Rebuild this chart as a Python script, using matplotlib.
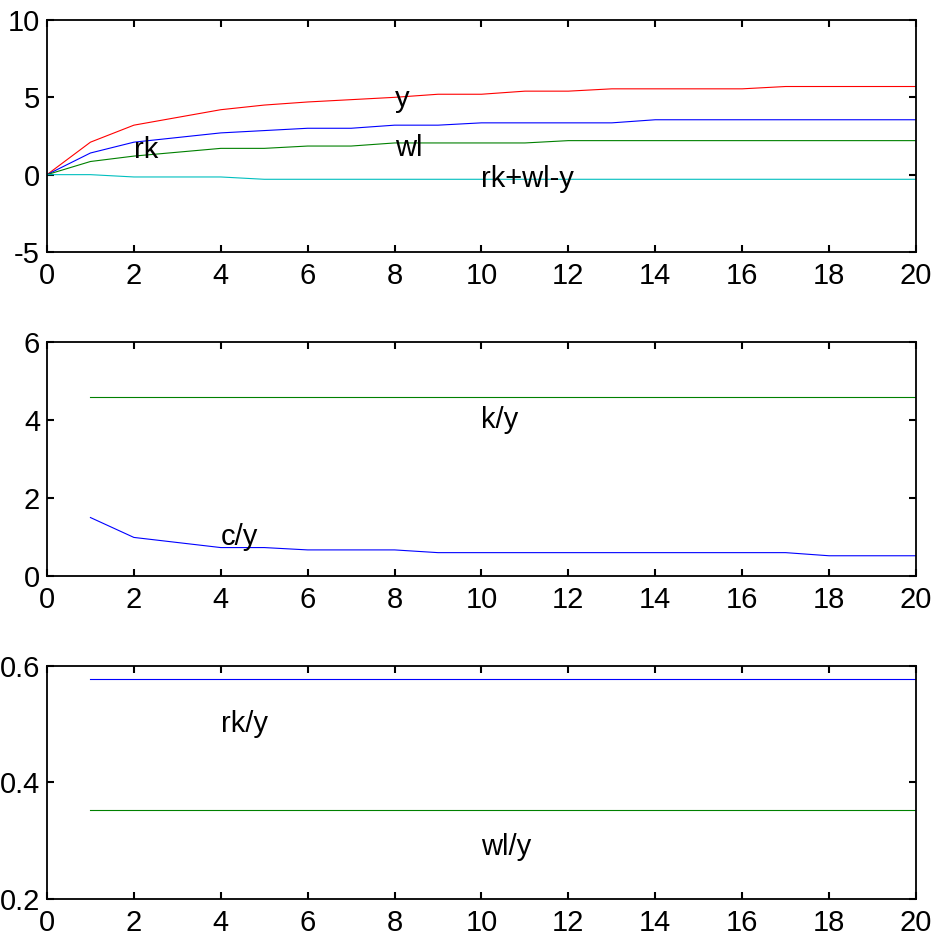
import numpy as np
import matplotlib
matplotlib.use("Agg")
import matplotlib.pyplot as plt

plt.rcParams['font.family'] = ['Liberation Sans Narrow', 'Liberation Sans', 'DejaVu Sans']
plt.rcParams['axes.unicode_minus'] = False

# top panel: levels over time
t1 = np.arange(0, 21)
y = [0, 2.1, 3.2, 3.7, 4.2, 4.5, 4.7, 4.85, 5.0, 5.2, 5.2, 5.4, 5.4, 5.55, 5.55, 5.55, 5.55, 5.7, 5.7, 5.7, 5.7]
rk = [0, 1.4, 2.1, 2.4, 2.7, 2.85, 3.0, 3.0, 3.2, 3.2, 3.35, 3.35, 3.35, 3.35, 3.55, 3.55, 3.55, 3.55, 3.55, 3.55, 3.55]
wl = [0, 0.85, 1.2, 1.45, 1.7, 1.7, 1.85, 1.85, 2.05, 2.05, 2.05, 2.05, 2.2, 2.2, 2.2, 2.2, 2.2, 2.2, 2.2, 2.2, 2.2]
resid = [0, 0, -0.15, -0.15, -0.15, -0.3, -0.3, -0.3, -0.3, -0.3, -0.3, -0.3, -0.3, -0.3, -0.3, -0.3, -0.3, -0.3, -0.3, -0.3, -0.3]

# middle and bottom panels: ratios
t2 = np.arange(1, 21)
ky = [4.6] * 20
cy = [1.5, 0.99, 0.86, 0.73, 0.73, 0.67, 0.67, 0.67, 0.6, 0.6, 0.6, 0.6, 0.6, 0.6, 0.6, 0.6, 0.6, 0.52, 0.52, 0.52]
rky = [0.578] * 20
wly = [0.352] * 20

fs = 21
lw = 0.8

fig = plt.figure(figsize=(9.34, 9.49), dpi=100)
ax1 = fig.add_axes([0.0503, 0.7345, 0.9304, 0.2444])
ax2 = fig.add_axes([0.0503, 0.3930, 0.9304, 0.2466])
ax3 = fig.add_axes([0.0503, 0.0527, 0.9304, 0.2455])

ax1.plot(t1, y, color='red', lw=lw)
ax1.plot(t1, rk, color='blue', lw=lw)
ax1.plot(t1, wl, color='green', lw=lw)
ax1.plot(t1, resid, color='#00bfbf', lw=lw)
ax1.text(8, 4.9, 'y', fontsize=fs, va='center')
ax1.text(2, 1.6, 'rk', fontsize=fs, va='center')
ax1.text(8, 1.75, 'wl', fontsize=fs, va='center')
ax1.text(10, -0.3, 'rk+wl-y', fontsize=fs, va='center')
ax1.set_ylim(-5, 10)
ax1.set_yticks([-5, 0, 5, 10])

ax2.plot(t2, ky, color='green', lw=lw)
ax2.plot(t2, cy, color='blue', lw=lw)
ax2.text(10, 4.0, 'k/y', fontsize=fs, va='center')
ax2.text(4, 1.0, 'c/y', fontsize=fs, va='center')
ax2.set_ylim(0, 6)
ax2.set_yticks([0, 2, 4, 6])

ax3.plot(t2, rky, color='blue', lw=lw)
ax3.plot(t2, wly, color='green', lw=lw)
ax3.text(4, 0.5, 'rk/y', fontsize=fs, va='center')
ax3.text(10, 0.29, 'wl/y', fontsize=fs, va='center')
ax3.set_ylim(0.2, 0.6)
ax3.set_yticks([0.2, 0.4, 0.6])

for ax in (ax1, ax2, ax3):
    ax.set_xlim(0, 20)
    ax.set_xticks(range(0, 21, 2))
    ax.tick_params(direction='in', top=True, right=True, length=5, width=1.5,
                   labelsize=fs)
    ax.tick_params(axis='x', pad=7)
    ax.tick_params(axis='y', pad=5)
    for s in ax.spines.values():
        s.set_linewidth(1.3)

fig.savefig('out.png', dpi=100)
